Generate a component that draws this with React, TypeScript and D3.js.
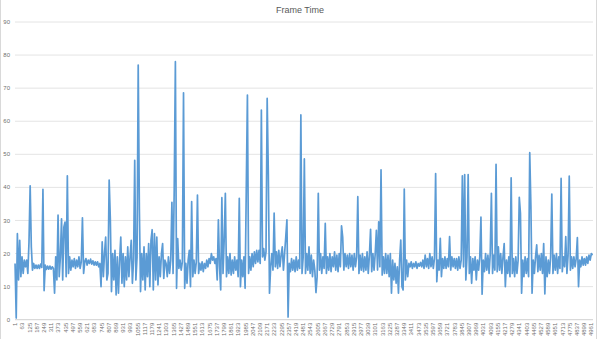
import React from "react";
import * as d3 from "d3";

const TITLE = "Frame Time";
const FRAME_COUNT = 4975;
const SAMPLE_STEP = 10; // one value read every 10 frames
const Y_TICKS = [0, 10, 20, 30, 40, 50, 60, 70, 80, 90];
const X_LABEL_FIRST = 1;
const X_LABEL_STEP = 62;
const X_LABEL_LAST = 4961;

// frame time (ms), frame = 1 + k*SAMPLE_STEP
const frameTime: number[] = [
  17, 0.5, 26, 12, 24, 13, 19, 14, 18, 16,
  18, 14, 23.5, 40.5, 22, 15, 17, 15.5, 16.5, 15.5,
  16.5, 15.5, 16.8, 15.8, 39.4, 8.8, 16.5, 15.2, 16.2, 15.3,
  16.2, 15.3, 16, 15.5, 8, 19, 12, 31.6, 13, 19,
  30.5, 12, 28, 29.5, 13, 43.5, 14, 19, 15, 18,
  16, 18.5, 15.5, 18, 16, 19, 15.5, 17.5, 30.8, 14,
  17.5, 18.5, 16.5, 18, 17, 18.3, 16.8, 17.8, 16.5, 17.5,
  16.5, 17.5, 16, 17, 10, 23.5, 13, 20, 25, 12,
  14, 42.2, 30.5, 8.5, 20, 12, 21, 7.5, 19, 8,
  18, 25, 11, 20, 10, 19, 12, 22, 13, 19,
  24, 11, 18, 48.2, 12, 19, 77, 33.3, 8.5, 20,
  12, 22, 9, 20, 13, 23, 10, 24, 27.2, 9,
  26, 12, 25, 10.5, 19, 13, 20, 23, 12.5, 18,
  17, 13, 19, 14, 18, 35.5, 14, 39.5, 78, 9.5,
  24.5, 15.5, 18, 15, 17.5, 68.6, 9.5, 17, 11, 18,
  21, 10, 35.7, 13, 18, 14, 17.5, 37.7, 14, 17,
  15, 17.5, 14.5, 17, 15.5, 18, 16, 18.5, 17, 20,
  18, 19, 17, 18.5, 12, 30.2, 16, 9, 36.9, 14,
  24, 38.2, 13, 19, 14, 20, 13.5, 18, 14, 19,
  15, 18, 13, 36.7, 10, 18, 13, 19, 9.5, 39,
  67.9, 14, 19, 15, 20, 16, 20.5, 17, 21, 17.5,
  21, 17, 63.4, 19, 21.5, 18, 20.5, 66.9, 44, 8,
  16, 20, 15, 32.2, 16, 20.5, 15.5, 21, 16, 19.5,
  22, 15, 20, 25, 30.2, 0.8, 17, 14.5, 18.5, 15,
  18, 14.5, 19, 15, 18, 15.5, 61.9, 14, 19, 48.6,
  14, 20, 15, 22, 14, 19.5, 13, 18, 15, 8.2,
  13, 38.2, 15, 20, 14, 19, 15.5, 29.1, 14, 19,
  15, 20, 14.5, 19, 16, 20.5, 15, 19.5, 14.5, 20,
  16, 28.4, 25, 15, 20, 16, 19.5, 15.5, 20, 16,
  19.5, 15, 20, 16, 19, 37.2, 14, 19.5, 15, 20,
  14.5, 19, 15, 20.5, 14, 19.5, 27.3, 14.5, 20, 15,
  20, 27, 15, 29.6, 16, 45.3, 13.5, 19, 14, 20,
  14, 19.5, 13, 20, 8, 18, 12, 17, 11, 16,
  8, 18, 24.1, 10, 9, 39.5, 12, 18, 13, 17,
  16, 17.5, 15.5, 17, 16, 17.5, 15.5, 17, 16.2, 17.3,
  16, 18, 15.5, 19.5, 16, 18.5, 15.5, 20, 16, 19,
  15.5, 18.5, 44.2, 11.5, 18, 15, 24.6, 13, 18.5, 15.5,
  19, 15.5, 18.5, 16, 25.1, 15, 19, 16, 18.5, 15.5,
  18.5, 15, 19, 15.5, 18, 43.5, 16, 43.9, 12, 19,
  43.9, 14, 19, 11, 18.5, 15, 19, 12, 18, 15,
  19, 31, 7.7, 18, 14.5, 20, 15, 19.5, 14, 20,
  38.2, 14, 19.5, 15, 47, 14.5, 22, 15, 20, 14,
  19, 23, 10, 18, 14, 19, 13, 42.9, 14, 18.5,
  13, 19, 14, 18, 37, 32.2, 8, 18, 13, 19,
  14, 18.5, 13, 50.5, 34.4, 8, 18, 14, 19, 22.6,
  14.5, 19.5, 15, 20, 14, 23, 7.8, 19, 13, 18,
  14, 19, 38, 14, 19.5, 15, 20, 14, 19, 15.5,
  42.7, 14.5, 19, 16, 25.1, 14, 19.5, 43.4, 15, 19,
  15.5, 19, 16, 18.5, 24.8, 10, 18, 16, 19, 16.5,
  18.5, 16.5, 19, 17, 19.5, 18, 20, 19.5,
];

const W = 600;
const H = 339;
const PLOT_LEFT = 15;
const PLOT_RIGHT = 593;
const PLOT_TOP = 22;
const PLOT_BOTTOM = 319.7;

export default function App() {
  const x = d3.scaleLinear().domain([0.5, FRAME_COUNT + 0.5]).range([PLOT_LEFT, PLOT_RIGHT]);
  const y = d3.scaleLinear().domain([0, 90]).range([PLOT_BOTTOM, PLOT_TOP]);
  const points = frameTime.map((v, k) => ({ frame: 1 + k * SAMPLE_STEP, v }));
  const line = d3
    .line<{ frame: number; v: number }>()
    .x((d) => x(d.frame))
    .y((d) => y(d.v));
  const xLabels = d3.range(X_LABEL_FIRST, X_LABEL_LAST + 1, X_LABEL_STEP);
  const font = "'Liberation Sans', Arial, sans-serif";

  return (
    <svg
      width={W}
      height={H}
      style={{ position: "fixed", left: 0, top: 0, background: "#fff" }}
      fontFamily={font}
    >
      <rect x={0.5} y={-1} width={W - 4} height={H + 2} fill="#fff" stroke="#d9d9d9" />
      <text x={300} y={12.5} textAnchor="middle" fontSize={9} fill="#595959">
        {TITLE}
      </text>
      {Y_TICKS.map((t) => (
        <g key={t}>
          <line
            x1={PLOT_LEFT}
            x2={PLOT_RIGHT}
            y1={y(t)}
            y2={y(t)}
            stroke={t === 0 ? "#d0d0d0" : "#e4e4e4"}
            strokeWidth={1}
          />
          <text x={10} y={y(t)} dy="0.35em" textAnchor="end" fontSize={6} fill="#6f6f6f">
            {t}
          </text>
        </g>
      ))}
      <path d={line(points) || ""} fill="none" stroke="#5B9BD5" strokeWidth={1.7} strokeLinejoin="round" />
      {xLabels.map((l) => (
        <text
          key={l}
          transform={`translate(${x(l)},${PLOT_BOTTOM + 3}) rotate(-90)`}
          textAnchor="end"
          dy="0.35em"
          fontSize={6}
          fill="#6f6f6f"
        >
          {l}
        </text>
      ))}
    </svg>
  );
}
